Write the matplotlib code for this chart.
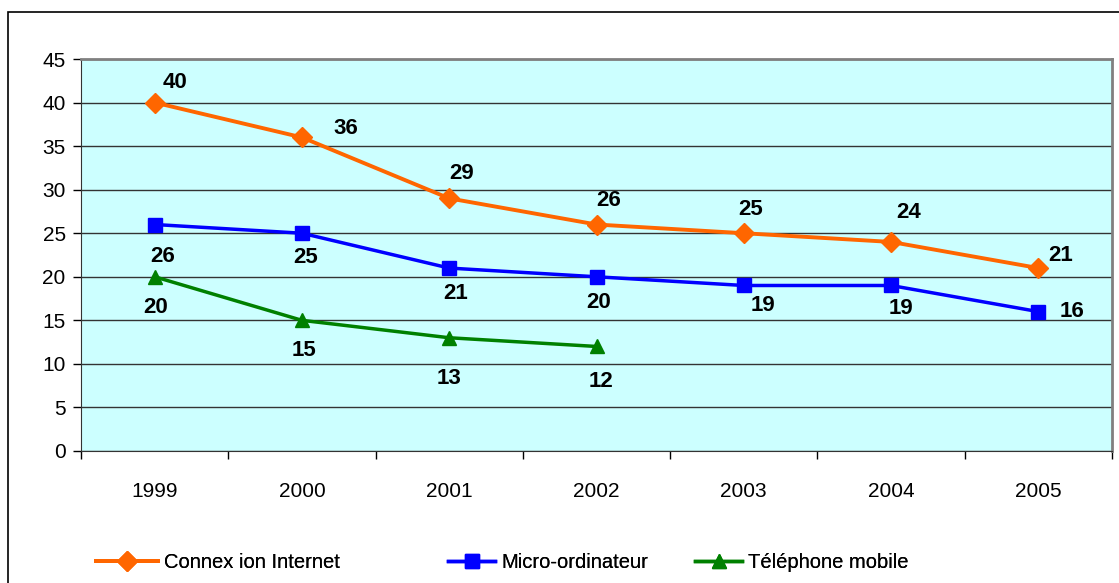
import matplotlib.pyplot as plt
from matplotlib.patches import Rectangle

plt.rcParams['font.family'] = ['Liberation Sans', 'DejaVu Sans']

years = ['1999', '2000', '2001', '2002', '2003', '2004', '2005']
internet = [40, 36, 29, 26, 25, 24, 21]
micro = [26, 25, 21, 20, 19, 19, 16]
mobile = [20, 15, 13, 12]

# label offsets in pixels (dx, dy), y up
off_internet = [(20, 20), (44, 9), (12, 25), (12, 24), (7, 24), (18, 29), (22, 13)]
off_micro = [(8, -32), (4, -24), (6, -25), (2, -26), (19, -20), (10, -23), (34, 0)]
off_mobile = [(1, -31), (2, -30), (0, -41), (4, -35)]

W, H = 1119, 583
fig = plt.figure(figsize=(W / 100, H / 100), dpi=100)
ax = fig.add_axes([81 / W, 1 - 451 / H, 1031 / W, 392 / H])

# outer chart frame
fig.patches.append(Rectangle((8 / W, -0.1), 1.2, 1 - 12 / H + 0.1,
                             transform=fig.transFigure, fill=False,
                             edgecolor='black', linewidth=1.2))

ax.set_facecolor('#CCFFFF')
x = list(range(len(years)))
series = [
    (internet, '#FF6600', 'D', 10, 2.8, 'Connex ion Internet', off_internet),
    (micro, '#0000FF', 's', 9.5, 2.5, 'Micro-ordinateur', off_micro),
    (mobile, '#008000', '^', 10.5, 2.5, 'Téléphone mobile', off_mobile),
]
handles = []
for vals, col, mk, ms, lw, lab, offs in series:
    h, = ax.plot(x[:len(vals)], vals, color=col, marker=mk, markersize=ms,
                 linewidth=lw, label=lab, zorder=3)
    handles.append(h)
    for xi, v, (dx, dy) in zip(x, vals, offs):
        ax.annotate(str(v), (xi, v), xytext=(dx * 0.72, dy * 0.72),
                    textcoords='offset points', ha='center', va='center',
                    fontsize=16, fontweight='bold', color='black', zorder=4)

ax.set_xlim(-0.5, len(years) - 0.5)
ax.set_ylim(0, 45)
ax.set_yticks(range(0, 46, 5))
ax.set_xticks(x)
ax.set_xticklabels(years)
ax.set_xticks([i - 0.5 for i in range(len(years) + 1)], minor=True)
ax.tick_params(axis='x', which='major', length=0, pad=22, labelsize=15)
ax.tick_params(axis='x', which='minor', length=6, width=1, direction='out')
ax.tick_params(axis='y', length=6, width=1, direction='out', labelsize=15, pad=5)
ax.grid(axis='y', color='#333333', linewidth=1, zorder=1)
ax.set_axisbelow(True)
for s in ['top', 'right']:
    ax.spines[s].set_color('#808080')
    ax.spines[s].set_linewidth(2)
ax.spines['left'].set_color('#333333')
ax.spines['bottom'].set_color('#333333')

# legend entries placed individually like the original
leg_x = [96, 448, 695]
leg_len = [3.1, 2.35, 2.35]
for h, lx, hl in zip(handles, leg_x, leg_len):
    lg = fig.legend(handles=[h], loc='center left',
                    bbox_to_anchor=(lx / W, 1 - 563 / H), frameon=False,
                    fontsize=14.5, handlelength=hl, handletextpad=0.3,
                    borderpad=0, borderaxespad=0)
    fig.add_artist(lg)

fig.savefig('out.png', dpi=100)
